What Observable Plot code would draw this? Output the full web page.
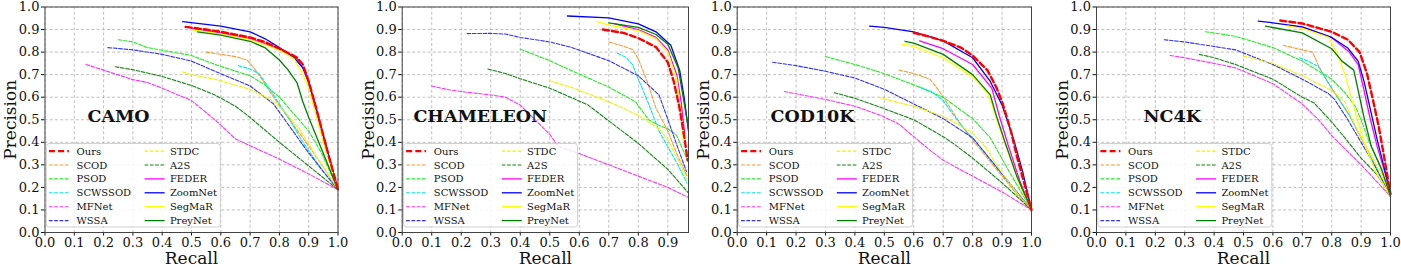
<!DOCTYPE html>
<html><head><meta charset="utf-8">
<script src="https://cdn.jsdelivr.net/npm/d3@7"></script>
<script src="https://cdn.jsdelivr.net/npm/@observablehq/plot@0.6"></script>
<style>
html,body{margin:0;padding:0;background:#fff;}
#root{position:relative;width:1401px;height:268px;overflow:hidden;background:#fff;}
#root svg{position:absolute;top:0;}
</style></head><body><div id="root"></div>
<script>
// ---------- data ----------
const methods = ["Ours","SCOD","PSOD","SCWSSOD","MFNet","WSSA","STDC","A2S","FEDER","ZoomNet","SegMaR","PreyNet"];
const colors  = ["#ff0000","#ff9933","#22ee22","#00e8ee","#ff33ff","#3333ff","#f2f200","#118811","#ff00ff","#0000ff","#ffff00","#008000"];
const kinds   = ["thick","dash","dash","dash","dash","dash","dash","dash","solid","solid","solid","solid"];
const datasets = ["CAMO","CHAMELEON","COD10K","NC4K"];
const xTicks = [0,0.1,0.2,0.3,0.4,0.5,0.6,0.7,0.8,0.9,1.0];
const yTicks = [0,0.1,0.2,0.3,0.4,0.5,0.6,0.7,0.8,0.9,1.0];

const CAMO = {
  Ours:[[0.48,0.912],[0.55,0.9],[0.6,0.89],[0.7,0.865],[0.75,0.845],[0.8,0.815],[0.84,0.79],[0.86,0.775],[0.88,0.745],[0.9,0.67],[0.93,0.53],[0.96,0.38],[1.0,0.19]],
  SCOD:[[0.55,0.8],[0.6,0.79],[0.65,0.78],[0.69,0.765],[0.71,0.735],[0.74,0.68],[0.78,0.6],[0.835,0.5],[0.88,0.42],[0.945,0.3],[1.0,0.19]],
  PSOD:[[0.25,0.855],[0.3,0.845],[0.35,0.82],[0.4,0.808],[0.5,0.785],[0.58,0.745],[0.7,0.695],[0.75,0.655],[0.8,0.6],[0.86,0.51],[0.9,0.45],[0.945,0.35],[1.0,0.19]],
  SCWSSOD:[[0.66,0.74],[0.7,0.725],[0.73,0.705],[0.76,0.65],[0.79,0.59],[0.84,0.49],[0.88,0.4],[0.95,0.27],[1.0,0.19]],
  MFNet:[[0.14,0.745],[0.2,0.72],[0.3,0.678],[0.35,0.665],[0.4,0.64],[0.5,0.585],[0.58,0.5],[0.65,0.415],[0.7,0.385],[0.8,0.325],[0.9,0.26],[1.0,0.19]],
  WSSA:[[0.215,0.82],[0.3,0.81],[0.4,0.79],[0.5,0.76],[0.58,0.715],[0.7,0.65],[0.78,0.57],[0.835,0.47],[0.89,0.37],[0.95,0.27],[1.0,0.19]],
  STDC:[[0.47,0.712],[0.5,0.7],[0.58,0.68],[0.7,0.635],[0.77,0.59],[0.82,0.535],[0.87,0.455],[0.92,0.35],[0.96,0.27],[1.0,0.19]],
  A2S:[[0.24,0.735],[0.3,0.722],[0.4,0.692],[0.5,0.652],[0.58,0.61],[0.65,0.56],[0.7,0.51],[0.8,0.4],[0.9,0.295],[1.0,0.19]],
  FEDER:[[0.5,0.905],[0.6,0.885],[0.7,0.86],[0.8,0.815],[0.86,0.77],[0.89,0.71],[0.92,0.58],[0.96,0.38],[1.0,0.19]],
  ZoomNet:[[0.47,0.935],[0.6,0.915],[0.7,0.89],[0.75,0.86],[0.8,0.82],[0.85,0.775],[0.88,0.73],[0.9,0.665],[0.95,0.43],[1.0,0.19]],
  SegMaR:[[0.5,0.9],[0.6,0.88],[0.7,0.855],[0.8,0.81],[0.85,0.77],[0.88,0.7],[0.9,0.64],[0.95,0.4],[1.0,0.19]],
  PreyNet:[[0.52,0.89],[0.6,0.875],[0.7,0.848],[0.75,0.82],[0.8,0.765],[0.83,0.72],[0.86,0.665],[0.88,0.58],[0.9,0.51],[0.95,0.35],[1.0,0.19]]
};
const CHAMELEON = {
  Ours:[[0.68,0.9],[0.75,0.885],[0.8,0.862],[0.86,0.822],[0.9,0.755],[0.92,0.67],[0.94,0.55],[0.955,0.43],[0.967,0.32]],
  SCOD:[[0.7,0.845],[0.74,0.83],[0.78,0.812],[0.8,0.77],[0.83,0.67],[0.86,0.55],[0.9,0.45],[0.93,0.35],[0.965,0.25]],
  PSOD:[[0.4,0.813],[0.5,0.762],[0.57,0.72],[0.7,0.645],[0.79,0.58],[0.835,0.5],[0.87,0.475],[0.9,0.46],[0.93,0.43],[0.97,0.31]],
  SCWSSOD:[[0.73,0.795],[0.76,0.775],[0.78,0.745],[0.8,0.68],[0.835,0.57],[0.87,0.45],[0.9,0.38],[0.93,0.31],[0.965,0.22]],
  MFNet:[[0.1,0.65],[0.15,0.635],[0.2,0.625],[0.3,0.61],[0.35,0.6],[0.4,0.565],[0.45,0.5],[0.5,0.435],[0.53,0.38],[0.6,0.35],[0.7,0.3],[0.8,0.25],[0.9,0.2],[0.97,0.155]],
  WSSA:[[0.22,0.882],[0.3,0.883],[0.35,0.88],[0.4,0.865],[0.5,0.845],[0.57,0.822],[0.7,0.762],[0.8,0.695],[0.87,0.61],[0.895,0.52],[0.93,0.39],[0.963,0.27]],
  STDC:[[0.5,0.673],[0.57,0.645],[0.7,0.58],[0.8,0.52],[0.87,0.46],[0.9,0.41],[0.94,0.31],[0.965,0.23]],
  A2S:[[0.29,0.725],[0.35,0.705],[0.4,0.682],[0.5,0.64],[0.57,0.6],[0.63,0.565],[0.7,0.495],[0.8,0.395],[0.9,0.28],[0.97,0.175]],
  FEDER:[[0.72,0.925],[0.8,0.9],[0.86,0.865],[0.9,0.81],[0.93,0.7],[0.945,0.58],[0.957,0.44]],
  ZoomNet:[[0.56,0.96],[0.7,0.952],[0.8,0.925],[0.86,0.89],[0.91,0.83],[0.94,0.72],[0.955,0.6],[0.97,0.45]],
  SegMaR:[[0.66,0.935],[0.7,0.92],[0.8,0.895],[0.86,0.86],[0.9,0.8],[0.93,0.68],[0.945,0.52],[0.952,0.41]],
  PreyNet:[[0.7,0.93],[0.8,0.91],[0.86,0.878],[0.9,0.835],[0.935,0.73],[0.952,0.6],[0.97,0.46]]
};
const COD10K = {
  Ours:[[0.6,0.885],[0.65,0.87],[0.7,0.85],[0.76,0.82],[0.8,0.785],[0.85,0.72],[0.88,0.645],[0.9,0.58],[0.93,0.45],[0.95,0.34],[0.975,0.22],[1.0,0.1]],
  SCOD:[[0.55,0.72],[0.6,0.705],[0.655,0.68],[0.685,0.63],[0.715,0.57],[0.76,0.48],[0.8,0.41],[0.85,0.33],[0.9,0.25],[0.95,0.17],[1.0,0.1]],
  PSOD:[[0.3,0.78],[0.4,0.745],[0.487,0.71],[0.6,0.655],[0.7,0.6],[0.8,0.505],[0.86,0.42],[0.89,0.35],[0.92,0.28],[0.96,0.19],[1.0,0.1]],
  SCWSSOD:[[0.62,0.645],[0.66,0.625],[0.7,0.585],[0.73,0.53],[0.77,0.46],[0.8,0.42],[0.85,0.34],[0.9,0.26],[0.95,0.18],[1.0,0.1]],
  MFNet:[[0.16,0.625],[0.2,0.615],[0.3,0.59],[0.4,0.56],[0.487,0.52],[0.55,0.48],[0.6,0.425],[0.65,0.37],[0.7,0.32],[0.75,0.285],[0.8,0.25],[0.9,0.18],[1.0,0.1]],
  WSSA:[[0.12,0.755],[0.2,0.74],[0.3,0.715],[0.4,0.685],[0.5,0.635],[0.6,0.57],[0.7,0.505],[0.8,0.42],[0.85,0.34],[0.9,0.26],[0.95,0.18],[1.0,0.1]],
  STDC:[[0.48,0.6],[0.55,0.575],[0.6,0.56],[0.7,0.515],[0.75,0.48],[0.8,0.44],[0.85,0.37],[0.88,0.3],[0.92,0.23],[0.96,0.16],[1.0,0.1]],
  A2S:[[0.33,0.62],[0.4,0.595],[0.487,0.555],[0.6,0.5],[0.7,0.425],[0.736,0.393],[0.8,0.33],[0.9,0.22],[1.0,0.1]],
  FEDER:[[0.62,0.85],[0.7,0.815],[0.8,0.745],[0.865,0.64],[0.89,0.52],[0.92,0.39],[0.96,0.23],[1.0,0.1]],
  ZoomNet:[[0.45,0.915],[0.5,0.91],[0.6,0.89],[0.7,0.85],[0.8,0.775],[0.86,0.67],[0.9,0.565],[0.94,0.41],[0.97,0.27],[1.0,0.1]],
  SegMaR:[[0.56,0.835],[0.6,0.825],[0.7,0.775],[0.8,0.69],[0.85,0.62],[0.865,0.57],[0.895,0.45],[0.925,0.34],[0.96,0.21],[1.0,0.1]],
  PreyNet:[[0.57,0.848],[0.6,0.84],[0.7,0.79],[0.8,0.7],[0.86,0.61],[0.88,0.52],[0.91,0.4],[0.95,0.25],[1.0,0.1]]
};
const NC4K = {
  Ours:[[0.625,0.94],[0.7,0.927],[0.8,0.89],[0.855,0.855],[0.895,0.8],[0.92,0.705],[0.94,0.59],[0.96,0.47],[0.975,0.36],[1.0,0.17]],
  SCOD:[[0.635,0.83],[0.7,0.81],[0.735,0.8],[0.755,0.74],[0.79,0.66],[0.82,0.6],[0.86,0.52],[0.9,0.42],[0.935,0.33],[1.0,0.16]],
  PSOD:[[0.37,0.89],[0.4,0.885],[0.473,0.87],[0.6,0.82],[0.7,0.76],[0.8,0.68],[0.845,0.62],[0.88,0.56],[0.9,0.5],[0.925,0.41],[0.96,0.31],[1.0,0.16]],
  SCWSSOD:[[0.69,0.775],[0.72,0.76],[0.755,0.735],[0.79,0.66],[0.82,0.6],[0.86,0.52],[0.9,0.42],[0.935,0.33],[1.0,0.16]],
  MFNet:[[0.25,0.785],[0.3,0.775],[0.4,0.75],[0.473,0.73],[0.6,0.66],[0.7,0.57],[0.755,0.5],[0.8,0.43],[0.9,0.3],[0.95,0.23],[1.0,0.16]],
  WSSA:[[0.23,0.855],[0.3,0.845],[0.4,0.825],[0.473,0.81],[0.6,0.745],[0.7,0.68],[0.79,0.615],[0.81,0.59],[0.855,0.5],[0.9,0.4],[0.945,0.3],[1.0,0.16]],
  STDC:[[0.5,0.782],[0.6,0.75],[0.7,0.695],[0.8,0.63],[0.845,0.58],[0.87,0.5],[0.9,0.42],[0.94,0.33],[1.0,0.17]],
  A2S:[[0.35,0.79],[0.4,0.775],[0.473,0.745],[0.6,0.68],[0.7,0.6],[0.74,0.575],[0.8,0.49],[0.845,0.42],[0.9,0.33],[0.955,0.255],[1.0,0.16]],
  FEDER:[[0.67,0.915],[0.7,0.91],[0.8,0.865],[0.86,0.8],[0.89,0.745],[0.91,0.63],[0.93,0.51],[0.955,0.38],[0.98,0.27],[1.0,0.17]],
  ZoomNet:[[0.55,0.937],[0.6,0.93],[0.7,0.912],[0.8,0.865],[0.855,0.818],[0.89,0.76],[0.91,0.67],[0.93,0.555],[0.955,0.41],[0.98,0.28],[1.0,0.17]],
  SegMaR:[[0.65,0.915],[0.7,0.905],[0.79,0.865],[0.82,0.79],[0.845,0.7],[0.86,0.63],[0.885,0.51],[0.915,0.38],[0.95,0.27],[1.0,0.16]],
  PreyNet:[[0.575,0.915],[0.7,0.885],[0.8,0.815],[0.835,0.76],[0.875,0.72],[0.885,0.66],[0.91,0.51],[0.935,0.38],[0.97,0.28],[1.0,0.16]]
};

// ---------- layout ----------
const SERIF = "'DejaVu Serif', 'Liberation Serif', serif";
const panels = [
  {data: CAMO,      left: 0,    width: 350, ml: 44.5, mr: 12.5, xmax: 1.0,  tx: 0.145, ty: 0.515},
  {data: CHAMELEON, left: 350,  width: 350, ml: 51.7, mr: 12,   xmax: 0.97, tx: 0.038, ty: 0.515},
  {data: COD10K,    left: 700,  width: 350, ml: 36.7, mr: 19,   xmax: 1.0,  tx: 0.113, ty: 0.515},
  {data: NC4K,      left: 1050, width: 351, ml: 46,   mr: 11,   xmax: 1.0,  tx: 0.16,  ty: 0.515}
];
const MT = 6.5, MB = 36, H = 268;
const root = document.getElementById("root");

function lineStyle(k) {
  if (k === "thick") return {strokeWidth: 2.4, strokeDasharray: "6,3.2"};
  if (k === "dash") return {strokeWidth: 1.1, strokeDasharray: "3.7,1.6"};
  return {strokeWidth: 1.3};
}

panels.forEach((p, pi) => {
  const name = datasets[pi];
  const xt = xTicks.filter(t => t <= p.xmax + 1e-9);
  const order = methods.slice(1).concat(["Ours"]);
  const lineMarks = order.map(m => {
    const i = methods.indexOf(m);
    return Plot.line(p.data[m], {x: d => d[0], y: d => d[1], stroke: colors[i], ...lineStyle(kinds[i]), strokeLinejoin: "round"});
  });
  const svg = Plot.plot({
    width: p.width, height: H,
    marginLeft: p.ml, marginRight: p.mr, marginTop: MT, marginBottom: MB,
    x: {domain: [0, p.xmax]},
    y: {domain: [0, 1]},
    style: {fontFamily: SERIF, fontSize: "13px", color: "#111", background: "transparent", overflow: "visible"},
    marks: [
      Plot.gridX(xt, {stroke: "#b0b0b0", strokeOpacity: 1, strokeWidth: 0.8, strokeDasharray: "3,2.2"}),
      Plot.gridY(yTicks, {stroke: "#b0b0b0", strokeOpacity: 1, strokeWidth: 0.8, strokeDasharray: "3,2.2"}),
      ...lineMarks,
      Plot.axisX(xt, {tickSize: 3.5, tickPadding: 2, tickFormat: d3.format(".1f"), label: null, fontSize: 13}),
      Plot.axisY(yTicks, {tickSize: 3.5, tickPadding: 2, tickFormat: d3.format(".1f"), label: null, fontSize: 13}),
      Plot.text(["Recall"], {frameAnchor: "bottom", dy: 26, lineAnchor: "middle", textAnchor: "middle", text: d => d, fontSize: 17}),
      Plot.text(["Precision"], {frameAnchor: "left", dx: -34, rotate: -90, lineAnchor: "middle", textAnchor: "middle", text: d => d, fontSize: 17}),
      Plot.text([name], {x: () => p.tx, y: () => p.ty, text: d => d, fontSize: 17.5, fontWeight: "bold", textAnchor: "start", lineAnchor: "middle"}),
      Plot.frame({stroke: "#444", strokeWidth: 1})
    ]
  });
  svg.style.left = p.left + "px";
  root.appendChild(svg);

  // in-plot legend (lower left), like matplotlib loc="lower left", ncol=2
  const bx = p.ml + 1.8, bh = 83.5, by = H - MB - 5 - bh, bw = 174;
  const g = d3.select(svg).append("g").attr("font-family", SERIF).attr("font-size", 10).attr("text-anchor", "start");
  g.append("rect").attr("x", bx).attr("y", by).attr("width", bw).attr("height", bh)
    .attr("rx", 3).attr("fill", "#fff").attr("fill-opacity", 0.85).attr("stroke", "#cccccc").attr("stroke-width", 0.9);
  methods.forEach((m, i) => {
    const col = Math.floor(i / 6), row = i % 6;
    const y = by + 7.6 + row * 13.9;
    const x0 = bx + (col === 0 ? 2.6 : 98.3);
    const st = lineStyle(kinds[i]);
    const ln = g.append("line").attr("x1", x0).attr("x2", x0 + 20).attr("y1", y).attr("y2", y)
      .attr("stroke", colors[i]).attr("stroke-width", st.strokeWidth);
    if (st.strokeDasharray) ln.attr("stroke-dasharray", st.strokeDasharray);
    g.append("text").attr("x", x0 + (col === 0 ? 27.7 : 25.3)).attr("y", y).attr("dy", "0.35em")
      .attr("text-anchor", "start").attr("fill", "#111").text(m);
  });
});
</script>
</body></html>
